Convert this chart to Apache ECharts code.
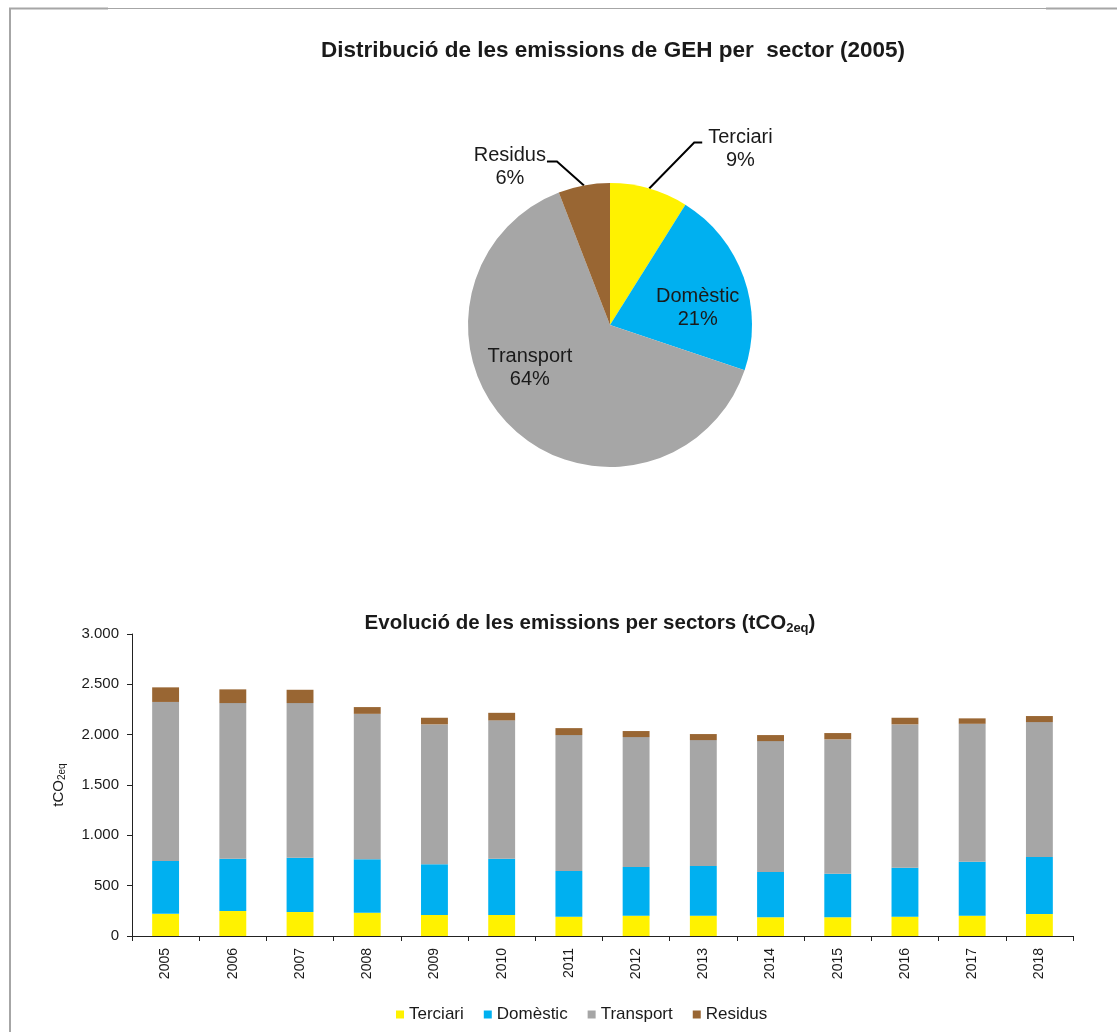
<!DOCTYPE html>
<html>
<head>
<meta charset="utf-8">
<script src="https://cdn.jsdelivr.net/npm/echarts@6/dist/echarts.min.js"></script>
<style>
  html, body { margin: 0; padding: 0; background: #fff; }
  #chart { width: 1117px; height: 1032px; }
</style>
</head>
<body>
<div id="chart"></div>
<script>
const years = ['2005', '2006', '2007', '2008', '2009', '2010', '2011', '2012', '2013', '2014', '2015', '2016', '2017', '2018']
const sectors = ['Terciari', 'Domèstic', 'Transport', 'Residus']
const terciari = [220, 248, 238, 231, 209, 209, 192, 202, 202, 186, 186, 192, 202, 218]
const domestic = [525, 520, 540, 531, 503, 559, 453, 483, 493, 450, 433, 486, 536, 566]
const transport = [1580, 1546, 1536, 1445, 1390, 1374, 1351, 1291, 1251, 1300, 1334, 1424, 1370, 1341]
const residus = [145, 136, 132, 67, 66, 75, 69, 60, 60, 60, 63, 66, 54, 60]
const yTicks = [0, 500, 1000, 1500, 2000, 2500, 3000]

const colors = ['#FFF200', '#00B0F0', '#A6A6A6', '#996633']
const seriesValues = [terciari, domestic, transport, residus]
const font = '"Liberation Sans", Arial, sans-serif'
const ink = '#1a1a1a'

// pie = 2005 breakdown, taken from the first column of the bar data
const pieData = sectors.map((name, i) => ({ name, value: seriesValues[i][0] }))
pieData[1].label = { position: 'inside' }
pieData[2].label = { position: 'inside' }

const fmtThousands = v => String(v).replace(/\B(?=(\d{3})+(?!\d))/g, '.')

const chart = echarts.init(document.getElementById('chart'))

chart.setOption({
  animation: false,
  color: colors,
  textStyle: { fontFamily: font, color: ink },
  graphic: [
    { type: 'line', shape: { x1: 9, y1: 8.5, x2: 1117, y2: 8.5 }, style: { stroke: '#a6a6a6', lineWidth: 1 } },
    { type: 'line', shape: { x1: 9, y1: 8.5, x2: 108, y2: 8.5 }, style: { stroke: '#a6a6a6', lineWidth: 2 } },
    { type: 'line', shape: { x1: 1046, y1: 8.5, x2: 1117, y2: 8.5 }, style: { stroke: '#a6a6a6', lineWidth: 2 } },
    { type: 'line', shape: { x1: 10, y1: 8, x2: 10, y2: 1032 }, style: { stroke: '#a6a6a6', lineWidth: 2 } }
  ],
  title: [
    {
      text: 'Distribució de les emissions de GEH per  sector (2005)',
      left: 608,
      top: 34,
      textAlign: 'center',
      textStyle: { fontFamily: font, fontSize: 22.5, fontWeight: 'bold', color: ink }
    },
    {
      text: '{t|Evolució de les emissions per sectors (tCO}{s|2eq}{t|)}',
      left: 585,
      top: 605,
      textAlign: 'center',
      textStyle: {
        rich: {
          t: { fontFamily: font, fontSize: 20.5, fontWeight: 'bold', color: ink, lineHeight: 26 },
          s: { fontFamily: font, fontSize: 13, fontWeight: 'bold', color: ink, lineHeight: 26, padding: [10, 0, 0, 0] }
        }
      }
    }
  ],
  legend: {
    data: sectors,
    left: 391,
    top: 1001,
    icon: 'rect',
    itemWidth: 8,
    itemHeight: 8,
    itemGap: 20,
    textStyle: { fontFamily: font, fontSize: 17, color: ink }
  },
  grid: { left: 132, right: 44, top: 634, height: 302, containLabel: false },
  xAxis: {
    type: 'category',
    data: years,
    axisLine: { lineStyle: { color: '#222', width: 1 } },
    axisTick: { show: true, length: 5, interval: 0, lineStyle: { color: '#222' } },
    axisLabel: { rotate: 90, interval: 0, margin: 12, fontFamily: font, fontSize: 14, color: ink }
  },
  yAxis: {
    type: 'value',
    min: yTicks[0],
    max: yTicks[yTicks.length - 1],
    interval: yTicks[1] - yTicks[0],
    name: '{t|tCO}{s|2eq}',
    nameLocation: 'middle',
    nameRotate: 90,
    nameGap: 64,
    nameTextStyle: {
      rich: {
        t: { fontFamily: font, fontSize: 15, color: ink, lineHeight: 19 },
        s: { fontFamily: font, fontSize: 10, color: ink, lineHeight: 19, padding: [7, 0, 0, 0] }
      }
    },
    splitLine: { show: false },
    axisLine: { show: true, lineStyle: { color: '#222', width: 1 } },
    axisTick: { show: true, length: 5, lineStyle: { color: '#222' } },
    axisLabel: { margin: 13, fontFamily: font, fontSize: 15, color: ink, formatter: fmtThousands }
  },
  series: [
    {
      type: 'pie',
      center: [610, 325],
      radius: 142,
      startAngle: 90,
      clockwise: true,
      percentPrecision: 0,
      data: pieData,
      itemStyle: { borderWidth: 0 },
      label: {
        formatter: '{b}\n{d}%',
        fontFamily: font,
        fontSize: 20,
        lineHeight: 23,
        color: ink
      },
      labelLine: { show: true, length: 20, length2: 10, lineStyle: { color: '#000', width: 2 } },
      labelLayout: params => {
        const w = params.labelRect.width
        const p0 = params.labelLinePoints ? params.labelLinePoints[0] : null
        if (params.dataIndex === 0 && p0) {
          const p1 = [p0[0] + 45, p0[1] - 46]
          const p2 = [p1[0] + 8, p1[1]]
          return { x: p2[0] + 6 + w / 2, y: p2[1] + 6, align: 'center', verticalAlign: 'middle', labelLinePoints: [p0, p1, p2] }
        }
        if (params.dataIndex === 3 && p0) {
          const p1 = [p0[0] - 27, p0[1] - 24]
          const p2 = [p1[0] - 10, p1[1]]
          return { x: p2[0] - 1 - w / 2, y: p2[1] + 6, align: 'center', verticalAlign: 'middle', labelLinePoints: [p0, p1, p2] }
        }
        if (params.dataIndex === 1) return { dx: 18, dy: 8 }
        if (params.dataIndex === 2) return { dx: -29, dy: -10 }
        return {}
      }
    },
    ...sectors.map((name, i) => ({
      name,
      type: 'bar',
      stack: 'total',
      barWidth: '40%',
      data: seriesValues[i],
      itemStyle: { color: colors[i] }
    }))
  ]
})
</script>
</body>
</html>
